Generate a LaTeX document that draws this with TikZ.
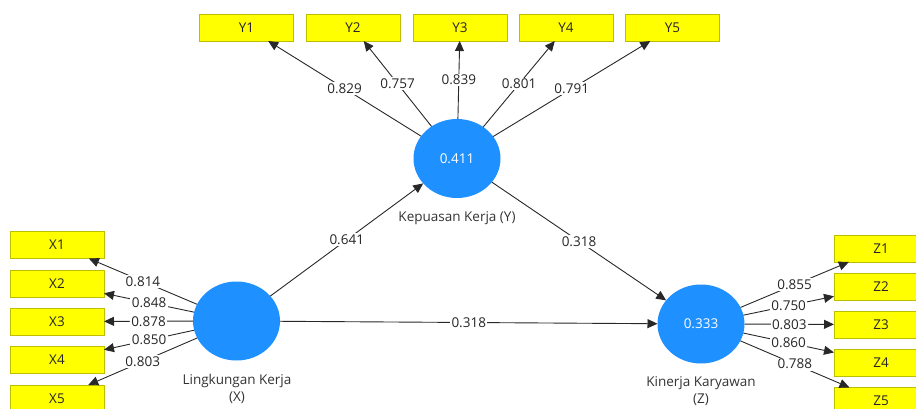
\documentclass[tikz,border=0pt]{standalone}
\usepackage{fontspec}
\setmainfont{Open Sans}
\usetikzlibrary{arrows.meta,shapes.geometric,positioning}
\definecolor{lvblue}{RGB}{30,144,255}
\definecolor{indyellow}{RGB}{255,255,0}
\definecolor{indedge}{RGB}{190,190,0}
\definecolor{linkgray}{RGB}{40,40,40}
\begin{document}
\begin{tikzpicture}[x=1pt,y=-1pt,inner sep=0pt,outer sep=0pt,
font=\fontsize{13.5}{15}\selectfont,
>={Triangle[length=10pt,width=9pt]},
latent/.style={ellipse,fill=lvblue,minimum width=87pt,minimum height=79pt,text=white},
indbox/.style={draw=indedge,fill=indyellow,rectangle,minimum width=94pt,minimum height=27pt,line width=0.8pt,text=black!85},
ld/.style={fill=white,inner sep=1.5pt,text=black!85},
link/.style={->,draw=linkgray,line width=0.9pt},
lvname/.style={align=center,text=black!80,font=\fontsize{13.5}{17}\selectfont}]
\useasboundingbox (0,0) rectangle (916,409);
\clip (0,0) rectangle (916,409);
\draw (236.5,321) node[latent] (lk) {};
\draw (457,158.5) node[latent] (kp) {0.411};
\draw (701,324) node[latent] (kk) {0.333};
\draw (457,218) node[lvname] (kpname) {Kepuasan Kerja (Y)};
\draw (237,388.5) node[lvname] (lkname) {Lingkungan Kerja\\(X)};
\draw (701,391.5) node[lvname] (kkname) {Kinerja Karyawan\\(Z)};
\draw (246.5,27.5) node[indbox] (y1) {Y1};
\draw (353,27.5) node[indbox] (y2) {Y2};
\draw (460,27.5) node[indbox] (y3) {Y3};
\draw (566,27.5) node[indbox] (y4) {Y4};
\draw (672.5,27.5) node[indbox] (y5) {Y5};
\draw (57,245) node[indbox] (x1) {X1};
\draw (57,283.5) node[indbox] (x2) {X2};
\draw (57,321.5) node[indbox] (x3) {X3};
\draw (57,360) node[indbox] (x4) {X4};
\draw (57,398.5) node[indbox] (x5) {X5};
\draw (881,248.5) node[indbox] (z1) {Z1};
\draw (881,286.5) node[indbox] (z2) {Z2};
\draw (881,324.5) node[indbox] (z3) {Z3};
\draw (881,362.5) node[indbox] (z4) {Z4};
\draw (881,401) node[indbox] (z5) {Z5};
\draw[link] (kp) -- node[ld] {0.829} (y1);
\draw[link] (kp) -- node[ld] {0.757} (y2);
\draw[link] (kp) -- node[ld] {0.839} (y3);
\draw[link] (kp) -- node[ld] {0.801} (y4);
\draw[link] (kp) -- node[ld] {0.791} (y5);
\draw[link] (lk) -- node[ld] {0.814} (x1);
\draw[link] (lk) -- node[ld] {0.848} (x2);
\draw[link] (lk) -- node[ld] {0.878} (x3);
\draw[link] (lk) -- node[ld] {0.850} (x4);
\draw[link] (lk) -- node[ld] {0.803} (x5);
\draw[link] (kk) -- node[ld] {0.855} (z1);
\draw[link] (kk) -- node[ld] {0.750} (z2);
\draw[link] (kk) -- node[ld] {0.803} (z3);
\draw[link] (kk) -- node[ld] {0.860} (z4);
\draw[link] (kk) -- node[ld] {0.788} (z5);
\draw[link] (lk) -- node[ld] {0.641} (kp);
\draw[link] (kp) -- node[ld] {0.318} (kk);
\draw[link] (lk) -- node[ld] {0.318} (kk);
\end{tikzpicture}
\end{document}
